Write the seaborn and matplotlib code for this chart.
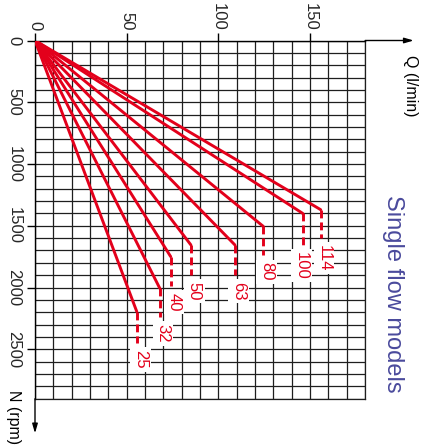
import numpy as np
import pandas as pd
import matplotlib
matplotlib.use("Agg")
import matplotlib.pyplot as plt
import seaborn as sns

# ---- data ----
models = ["114", "100", "80", "63", "50", "40", "32", "25"]
q_max = [155.8, 146.0, 124.5, 109.0, 85.0, 74.0, 68.0, 55.5]        # l/min at the knee
n_max = [1370, 1400, 1505, 1655, 1655, 1750, 2005, 2195]            # rpm at the knee
n_dash_end = [1600, 1655, 1740, 1900, 1900, 1985, 2240, 2450]       # rpm where dashes stop
q_ticks = [0, 50, 100, 150]
n_ticks = [0, 500, 1000, 1500, 2000, 2500]
q_grid_max, q_grid_step = 180, 10
n_grid_max, n_grid_step = 2900, 100

RED = "#e3001b"
BLUE = "#4a4a9c"
GRID = "#1e1e1e"

sns.set_style("white")
plt.rcParams["font.family"] = ["Liberation Sans", "DejaVu Sans"]

fig = plt.figure(figsize=(4.24, 4.46), dpi=100)
ax = fig.add_axes([35 / 424, 1 - 398.7 / 446, 330.1 / 424, 358.2 / 446])

# solid rays from the origin
rows = []
for m, q, n in zip(models, q_max, n_max):
    rows.append({"model": m, "Q": 0.0, "N": 0.0})
    rows.append({"model": m, "Q": q, "N": n})
df = pd.DataFrame(rows)
sns.lineplot(data=df, x="Q", y="N", units="model", estimator=None, sort=False,
             color=RED, lw=2.1, ax=ax, zorder=3, legend=False)

# dashed vertical extensions
rows = []
for m, q, n0, n1 in zip(models, q_max, n_max, n_dash_end):
    rows.append({"model": m, "Q": q, "N": n0})
    rows.append({"model": m, "Q": q, "N": n1})
dfd = pd.DataFrame(rows)
for m, g in dfd.groupby("model", sort=False):
    sns.lineplot(data=g, x="Q", y="N", estimator=None, sort=False, color=RED,
                 lw=2.1, ax=ax, zorder=3, legend=False)
    ax.lines[-1].set_dashes((2.7, 1.4))

# model labels
for m, q, n1 in zip(models, q_max, n_dash_end):
    dx = -4.3 if m == "100" else -0.8
    ax.annotate(m, xy=(q, n1), xytext=(dx, -5), textcoords="offset points",
                rotation=-90, rotation_mode="anchor", ha="left", va="baseline",
                color=RED, fontsize=12, zorder=4, annotation_clip=False,
                bbox=dict(facecolor="white", edgecolor="none", pad=2))

ax.set_xlim(0, q_grid_max)
ax.set_ylim(n_grid_max, 0)
ax.set_xlabel("")
ax.set_ylabel("")

# grid
ax.set_xticks(np.arange(0, q_grid_max + 1, q_grid_step), minor=True)
ax.set_yticks(np.arange(0, n_grid_max + 1, n_grid_step), minor=True)
ax.set_xticks(q_ticks, labels=[str(v) for v in q_ticks], rotation=-90)
ax.set_yticks(n_ticks, labels=[str(v) for v in n_ticks], rotation=-90, va="center")
ax.grid(which="both", color=GRID, lw=0.9, zorder=0)
ax.set_axisbelow(True)

ax.xaxis.tick_top()
ax.tick_params(axis="x", which="major", top=True, bottom=False, labeltop=True,
               labelbottom=False, length=5.8, width=1, color="black", pad=1.5,
               labelsize=12)
ax.tick_params(axis="y", which="major", left=True, right=False, length=5.8,
               width=1, color="black", pad=4, labelsize=12)
ax.tick_params(which="minor", length=0)

for s in ["top", "left"]:
    ax.spines[s].set_color("black")
    ax.spines[s].set_linewidth(1.0)
for s in ["right", "bottom"]:
    ax.spines[s].set_color(GRID)
    ax.spines[s].set_linewidth(0.9)

# axis arrows
arrow = dict(arrowstyle="-|>,head_length=0.55,head_width=0.16", lw=1.0,
             color="black", shrinkA=0, shrinkB=0)
ax.annotate("", xy=(206.5, 0), xytext=(q_grid_max, 0), arrowprops=arrow,
            annotation_clip=False)
ax.annotate("", xy=(0, 3180), xytext=(0, n_grid_max), arrowprops=arrow,
            annotation_clip=False)

# axis titles
ax.text(204.5, 120, "Q (l/min)", rotation=-90, rotation_mode="anchor",
        ha="left", va="center", fontsize=11.5, color="black", clip_on=False)
ax.text(-11.5, 2830, "N (rpm)", rotation=-90, rotation_mode="anchor",
        ha="left", va="center", fontsize=11.5, color="black", clip_on=False)
ax.text(195.0, 2053, "Single flow models", rotation=-90, rotation_mode="anchor",
        ha="center", va="center", fontsize=17, color=BLUE, clip_on=False)

fig.savefig("out.png", dpi=100)
